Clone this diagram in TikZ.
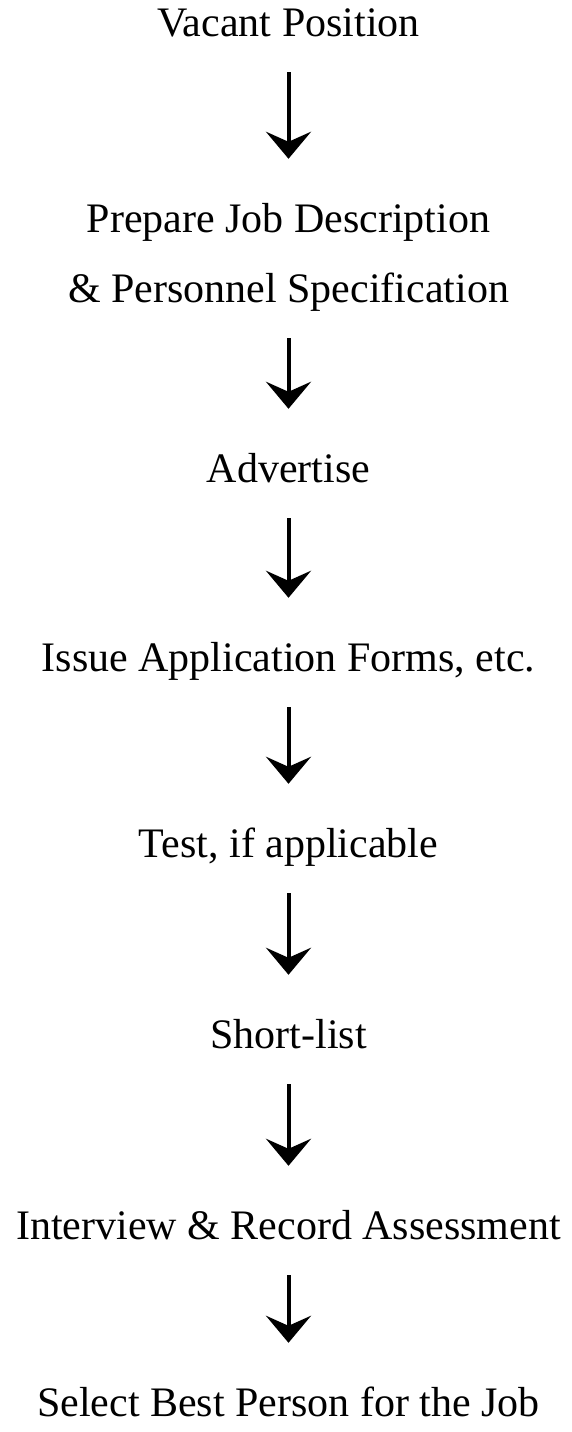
\documentclass[tikz,border=0pt]{standalone}
\usepackage{fontspec}
\setmainfont{Liberation Serif}
\usetikzlibrary{arrows.meta}

\begin{document}
\begin{tikzpicture}[x=1pt,y=1pt,
    stage/.style={font=\fontsize{42}{50}\selectfont,inner sep=0pt,anchor=base,
      text height=29pt,text depth=10pt},
    flow/.style={-{Stealth[length=27pt,width=45pt,inset=10pt]},line width=4pt,
      shorten <=25pt,shorten >=45pt}]
  \useasboundingbox (0,0) rectangle (571,1432);

  \node[stage] (vacant) at (288.5,1395) {Vacant Position};
  \node[stage] (jobdesc) at (288.5,1199) {Prepare Job Description};
  \node[stage] (perspec) at (288.5,1129) {\& Personnel Specification};
  \node[stage] (advert) at (288.5,949) {Advertise};
  \node[stage] (forms) at (288.5,760) {Issue Application Forms, etc.};
  \node[stage] (test) at (288.5,574) {Test, if applicable};
  \node[stage] (short) at (288.5,383) {Short-list};
  \node[stage] (interview) at (288.5,192) {Interview \& Record Assessment};
  \node[stage] (select) at (288.5,15) {Select Best Person for the Job};

  \draw[flow] (vacant) -- (jobdesc);
  \draw[flow] (perspec) -- (advert);
  \draw[flow] (advert) -- (forms);
  \draw[flow] (forms) -- (test);
  \draw[flow] (test) -- (short);
  \draw[flow] (short) -- (interview);
  \draw[flow] (interview) -- (select);
\end{tikzpicture}
\end{document}
